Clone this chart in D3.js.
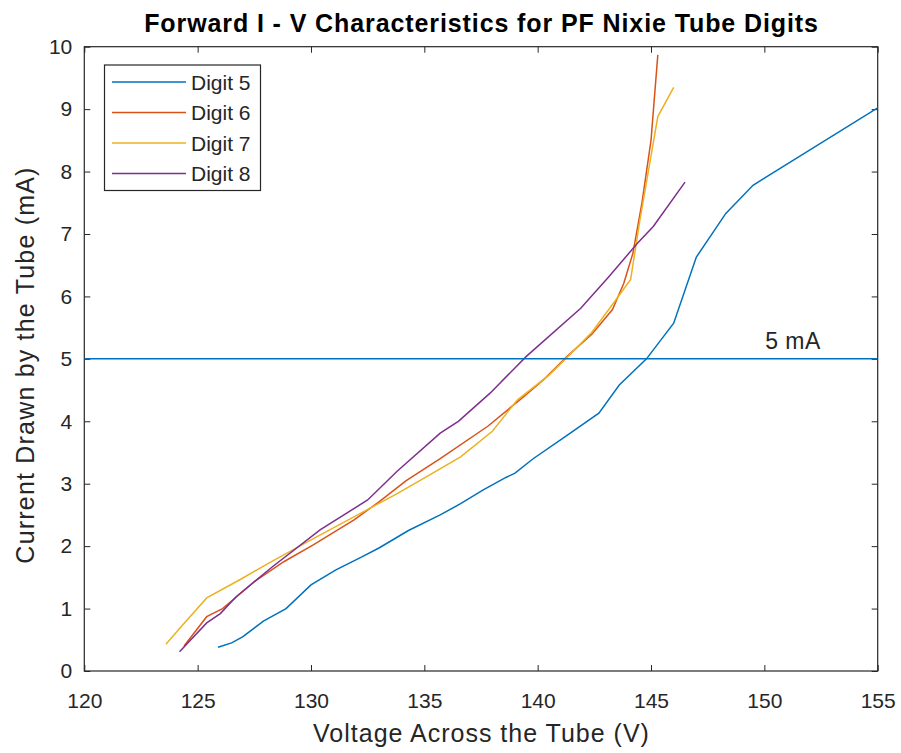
<!DOCTYPE html>
<html>
<head>
<meta charset="utf-8">
<script src="https://cdn.jsdelivr.net/npm/d3@7"></script>
<style>
  body { margin: 0; background: #fff; }
  text { font-family: "Liberation Sans", Arial, sans-serif; fill: #262626; }
</style>
</head>
<body>
<div id="chart"></div>
<script>
// values: [voltage (V), current (mA)]
var digit5 = [[125.9,0.38],[126.5,0.45],[127.0,0.55],[127.9,0.8],[128.9,1.0],[130.0,1.38],[131.1,1.62],[132.2,1.82],[133.0,1.97],[134.3,2.25],[135.7,2.5],[136.6,2.68],[137.6,2.9],[138.6,3.1],[139.0,3.17],[139.8,3.4],[141.2,3.75],[142.7,4.13],[143.6,4.58],[144.8,5.0],[146.0,5.57],[147.0,6.63],[148.3,7.33],[149.5,7.78],[155.0,9.02]];
var digit6 = [[124.4,0.4],[125.4,0.87],[126.1,1.0],[127.5,1.43],[128.8,1.75],[130.1,2.02],[131.9,2.42],[133.0,2.71],[134.2,3.05],[135.7,3.4],[137.8,3.92],[139.4,4.4],[140.3,4.68],[141.3,5.04],[142.4,5.4],[143.3,5.79],[143.8,6.21],[144.2,6.69],[144.6,7.5],[145.0,8.5],[145.3,9.87]];
var digit7 = [[123.6,0.43],[124.3,0.72],[125.4,1.17],[126.9,1.47],[128.1,1.72],[130.0,2.1],[132.2,2.53],[133.7,2.82],[134.8,3.05],[136.6,3.43],[138.0,3.84],[139.1,4.34],[140.5,4.74],[141.4,5.06],[142.4,5.43],[143.3,5.87],[144.1,6.27],[144.5,7.2],[145.3,8.88],[146.0,9.35]];
var digit8 = [[124.2,0.31],[125.4,0.77],[126.0,0.92],[126.7,1.19],[128.3,1.67],[130.4,2.26],[132.5,2.74],[133.8,3.2],[135.7,3.81],[136.5,4.0],[137.9,4.45],[139.5,5.04],[141.9,5.81],[143.1,6.3],[144.4,6.85],[145.1,7.12],[146.5,7.83]];

var seriesNames = ["Digit 5", "Digit 6", "Digit 7", "Digit 8"];
var seriesColors = ["#0072BD", "#D95319", "#EDB120", "#7E2F8E"];
var xTicks = [120, 125, 130, 135, 140, 145, 150, 155];
var yTicks = [0, 1, 2, 3, 4, 5, 6, 7, 8, 9, 10];
var refLevel = 5;

var allSeries = [digit5, digit6, digit7, digit8];

var width = 901, height = 753;
// plot box edges (window.top is taken, so prefix them)
var boxLeft = 84.3, boxRight = 877.7, boxTop = 46.7, boxBottom = 671;

var svg = d3.select("#chart").append("svg")
    .attr("width", width)
    .attr("height", height);

var x = d3.scaleLinear().domain([120, 155]).range([boxLeft, boxRight]);
var y = d3.scaleLinear().domain([0, 10]).range([boxBottom, boxTop]);

// clip so lines stay inside the box
svg.append("clipPath").attr("id", "clip")
    .append("rect").attr("x", boxLeft).attr("y", boxTop)
    .attr("width", boxRight - boxLeft).attr("height", boxBottom - boxTop);

// axes, ticks pointing inward like matlab
function styleAxis(g) {
    g.select(".domain").remove();
    g.selectAll("line").attr("stroke", "#262626");
    g.selectAll("text").style("font-size", "21px").attr("fill", "#262626");
}

svg.append("g").attr("transform", "translate(0," + boxBottom + ")")
    .call(d3.axisBottom(x).tickValues(xTicks).tickSizeInner(-6).tickSizeOuter(0).tickPadding(22))
    .call(styleAxis);
svg.append("g").attr("transform", "translate(0," + boxTop + ")")
    .call(d3.axisTop(x).tickValues(xTicks).tickSizeInner(-6).tickSizeOuter(0).tickFormat(""))
    .call(styleAxis);
svg.append("g").attr("transform", "translate(" + boxLeft + ",0)")
    .call(d3.axisLeft(y).tickValues(yTicks).tickSizeInner(-6).tickSizeOuter(0).tickPadding(12))
    .call(styleAxis);
svg.append("g").attr("transform", "translate(" + boxRight + ",0)")
    .call(d3.axisRight(y).tickValues(yTicks).tickSizeInner(-6).tickSizeOuter(0).tickFormat(""))
    .call(styleAxis);

svg.append("rect")
    .attr("x", boxLeft).attr("y", boxTop)
    .attr("width", boxRight - boxLeft).attr("height", boxBottom - boxTop)
    .attr("fill", "none").attr("stroke", "#262626").attr("stroke-width", 1.2);

// data lines
var line = d3.line().x(function(d) { return x(d[0]); }).y(function(d) { return y(d[1]); });
var plot = svg.append("g").attr("clip-path", "url(#clip)");

for (var i = 0; i < allSeries.length; i++) {
    plot.append("path")
        .datum(allSeries[i])
        .attr("d", line)
        .attr("fill", "none")
        .attr("stroke", seriesColors[i])
        .attr("stroke-width", 1.5);
}

// 5 mA reference line
plot.append("line")
    .attr("x1", x(120)).attr("x2", x(155))
    .attr("y1", y(refLevel)).attr("y2", y(refLevel))
    .attr("stroke", seriesColors[0]).attr("stroke-width", 1.5);

svg.append("text")
    .attr("x", 793).attr("y", y(refLevel) - 9.5)
    .attr("text-anchor", "middle")
    .style("font-size", "23px").style("letter-spacing", "0.4px")
    .text(refLevel + " mA");

// legend
var legend = svg.append("g");
legend.append("rect")
    .attr("x", 104.5).attr("y", 65)
    .attr("width", 156).attr("height", 125.5)
    .attr("fill", "#fff").attr("stroke", "#262626").attr("stroke-width", 1.2);

for (var j = 0; j < seriesNames.length; j++) {
    var ly = 82 + j * 30.5;
    legend.append("line")
        .attr("x1", 112).attr("x2", 186)
        .attr("y1", ly).attr("y2", ly)
        .attr("stroke", seriesColors[j]).attr("stroke-width", 1.5);
    legend.append("text")
        .attr("x", 191).attr("y", ly + 7.5)
        .style("font-size", "21px")
        .text(seriesNames[j]);
}

// title and axis labels
svg.append("text")
    .attr("x", 481.5).attr("y", 32)
    .attr("text-anchor", "middle")
    .style("font-size", "25px").style("font-weight", "bold").style("letter-spacing", "0.9px")
    .style("fill", "#000")
    .text("Forward I - V Characteristics for PF Nixie Tube Digits");

svg.append("text")
    .attr("x", 481.5).attr("y", 742)
    .attr("text-anchor", "middle")
    .style("font-size", "25px").style("letter-spacing", "1px")
    .text("Voltage Across the Tube (V)");

svg.append("text")
    .attr("transform", "translate(33.5,365) rotate(-90)")
    .attr("text-anchor", "middle")
    .style("font-size", "25px").style("letter-spacing", "1.2px")
    .text("Current Drawn by the Tube (mA)");
</script>
</body>
</html>
